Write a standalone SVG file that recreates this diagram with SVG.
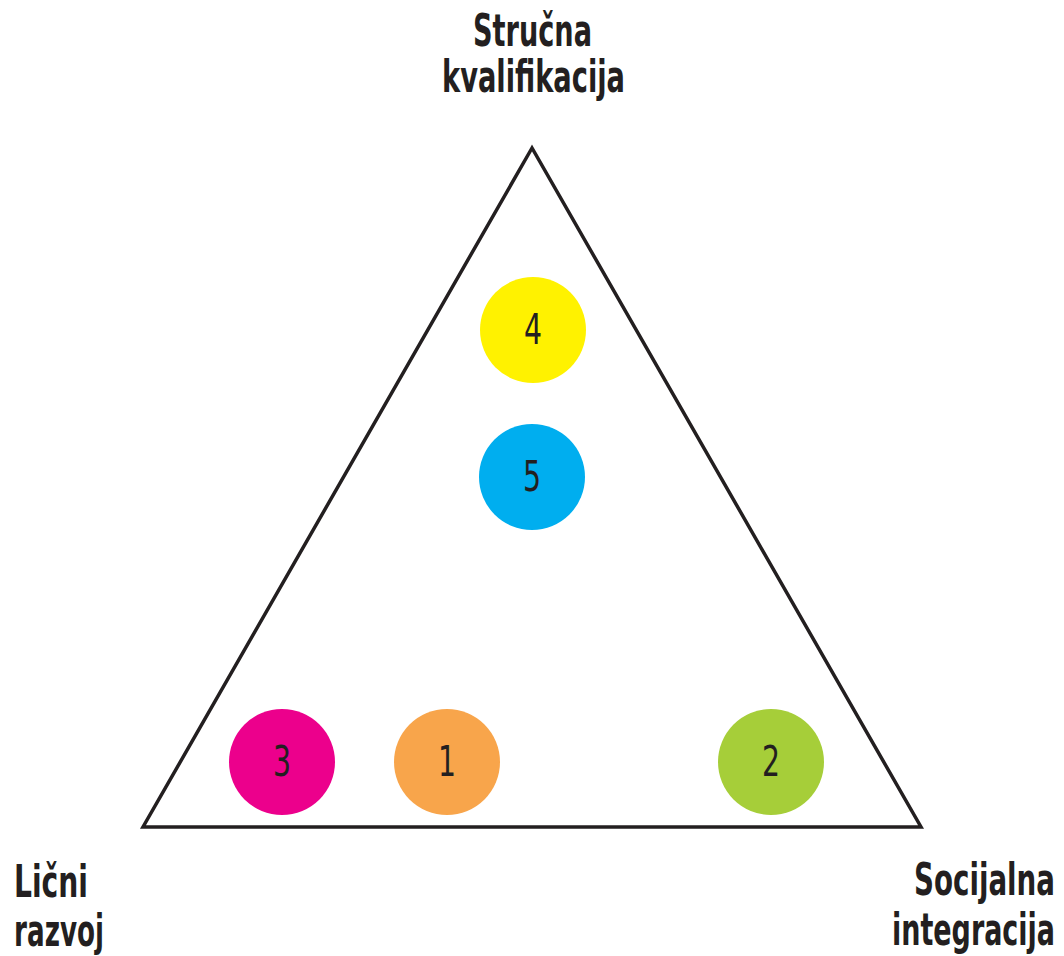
<svg xmlns="http://www.w3.org/2000/svg" width="1064" height="956" viewBox="0 0 1064 956">
<style>
.lbl{font-family:"Liberation Sans Narrow","DejaVu Sans Condensed","Liberation Sans",sans-serif;font-weight:bold;font-size:45px;fill:#231f20}
.num{font-family:"Liberation Sans Narrow","DejaVu Sans Condensed","Liberation Sans",sans-serif;font-size:42px;fill:#231f20}
.tri{fill:none;stroke:#231f20;stroke-width:3.5;stroke-linejoin:miter}
</style>
<rect width="1064" height="956" fill="#ffffff"/>
<g id="connectors">
<polygon class="tri" points="532,148 143,827 921,827"/>
</g>
<g id="label-top">
<text class="lbl" x="473" y="46" textLength="119" lengthAdjust="spacingAndGlyphs">Stručna</text>
<text class="lbl" x="442" y="92" textLength="183" lengthAdjust="spacingAndGlyphs">kvalifikacija</text>
</g>
<g id="label-left">
<text class="lbl" x="14" y="897" textLength="74" lengthAdjust="spacingAndGlyphs">Lični</text>
<text class="lbl" x="14" y="946" textLength="90" lengthAdjust="spacingAndGlyphs">razvoj</text>
</g>
<g id="label-right">
<text class="lbl" x="914" y="895" textLength="141" lengthAdjust="spacingAndGlyphs">Socijalna</text>
<text class="lbl" x="892" y="945" textLength="163" lengthAdjust="spacingAndGlyphs">integracija</text>
</g>
<g id="node-4"><circle cx="533" cy="330" r="53" fill="#fff200"/><text class="num" x="524" y="344" textLength="18" lengthAdjust="spacingAndGlyphs">4</text></g>
<g id="node-5"><circle cx="532" cy="477" r="53" fill="#00aeef"/><text class="num" x="523" y="491" textLength="18" lengthAdjust="spacingAndGlyphs">5</text></g>
<g id="node-3"><circle cx="282" cy="762" r="53" fill="#ec008c"/><text class="num" x="273" y="776" textLength="18" lengthAdjust="spacingAndGlyphs">3</text></g>
<g id="node-1"><circle cx="447" cy="762" r="53" fill="#f8a54b"/><text class="num" x="438" y="776" textLength="18" lengthAdjust="spacingAndGlyphs">1</text></g>
<g id="node-2"><circle cx="771" cy="762" r="53" fill="#a6ce39"/><text class="num" x="762" y="776" textLength="18" lengthAdjust="spacingAndGlyphs">2</text></g>
</svg>
